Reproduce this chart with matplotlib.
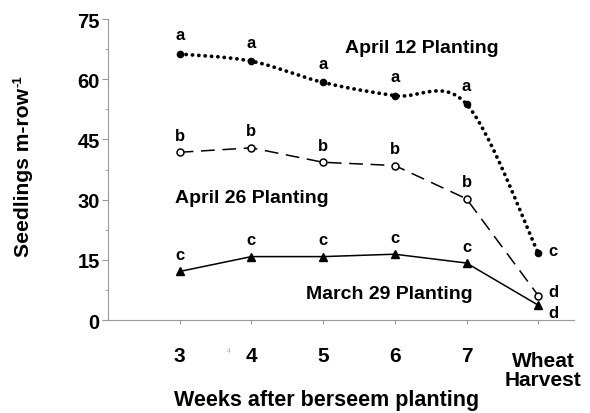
import numpy as np
import matplotlib
matplotlib.use("Agg")
import matplotlib.pyplot as plt
from matplotlib.ticker import MultipleLocator

plt.rcParams['font.family'] = ['Liberation Sans', 'DejaVu Sans']

# data
categories = ["3", "4", "5", "6", "7", "Wheat\nHarvest"]
april12 = [66.3, 64.5, 59.2, 55.9, 53.8, 16.7]
april26 = [41.8, 42.9, 39.3, 38.5, 30.2, 6.1]
march29 = [12.1, 15.8, 15.8, 16.4, 14.2, 3.7]
letters12 = ["a", "a", "a", "a", "a", "c"]
letters26 = ["b", "b", "b", "b", "b", "d"]
letters29 = ["c", "c", "c", "c", "c", "d"]


def smooth(xs, ys, n=30):
    # Bezier smoothing through the points (like a spreadsheet "smoothed line")
    p = np.column_stack([xs, ys]).astype(float)
    pts = np.vstack([p[0], p, p[-1]])
    out = []
    for i in range(1, len(pts) - 2):
        p0, p1, p2, p3 = pts[i - 1], pts[i], pts[i + 1], pts[i + 2]
        c1 = p1 + (p2 - p0) / 6
        c2 = p2 - (p3 - p1) / 6
        t = np.linspace(0, 1, n)[:, None]
        seg = ((1 - t) ** 3) * p1 + 3 * ((1 - t) ** 2) * t * c1 + 3 * (1 - t) * t ** 2 * c2 + t ** 3 * p2
        out.append(seg if i == 1 else seg[1:])
    s = np.vstack(out)
    return s[:, 0], s[:, 1]


x = np.arange(len(categories))

fig = plt.figure(figsize=(5.9, 4.14), dpi=100)
ax = fig.add_axes([0.183, 0.2246, 0.79, 0.727])

sx, sy = smooth(x, april12)
ax.plot(sx, sy, color='black', lw=2.7, linestyle=(0, (0.05, 1.65)),
        dash_capstyle='round')
ax.plot(x, april12, 'o', color='black', ms=4.5)

ax.plot(x, april26, color='black', lw=1.1, linestyle=(0, (9, 5)))
ax.plot(x, april26, 'o', mfc='white', mec='black', mew=1.1, ms=5)

ax.plot(x, march29, color='black', lw=1.1, marker='^', ms=6)

lab = dict(fontsize=12, fontweight='bold', ha='center', va='baseline')
for xi, yi, l in zip(x[:-1], april12[:-1], letters12[:-1]):
    ax.annotate(l, (xi, yi), xytext=(0, 10.5), textcoords='offset points', **lab)
for xi, yi, l in zip(x[:-1], april26[:-1], letters26[:-1]):
    ax.annotate(l, (xi, yi), xytext=(0, 9), textcoords='offset points', **lab)
for xi, yi, l in zip(x[:-1], march29[:-1], letters29[:-1]):
    ax.annotate(l, (xi, yi), xytext=(0, 9), textcoords='offset points', **lab)

side = dict(fontsize=12, fontweight='bold', ha='left', va='center')
ax.annotate(letters12[-1], (x[-1], april12[-1]), xytext=(7, 2), textcoords='offset points', **side)
ax.annotate(letters26[-1], (x[-1], april26[-1]), xytext=(7, 3), textcoords='offset points', **side)
ax.annotate(letters29[-1], (x[-1], march29[-1]), xytext=(7, -5), textcoords='offset points', **side)

ax.text(3.38, 67.8, "April 12 Planting", fontsize=14, fontweight='bold', ha='center', va='center')
ax.text(1.01, 30.6, "April 26 Planting", fontsize=14, fontweight='bold', ha='center', va='center')
ax.text(2.93, 6.5, "March 29 Planting", fontsize=14, fontweight='bold', ha='center', va='center')

ax.set_xlim(-1, 5.5)
ax.set_ylim(0, 75)
ax.yaxis.set_major_locator(MultipleLocator(15))
ax.yaxis.set_minor_locator(MultipleLocator(7.5))
ax.set_xticks(x)
ax.set_xticklabels(categories[:-1] + [""], fontsize=15, fontweight='bold')
for t in ax.get_yticklabels():
    t.set_fontsize(14.5)
    t.set_fontweight('bold')
ax.tick_params(axis='x', length=3, color='#999999', pad=16)
ax.tick_params(axis='y', which='major', length=4, color='#999999', pad=2)
ax.tick_params(axis='y', which='minor', length=2.5, color='#999999')

for s in ['top', 'right']:
    ax.spines[s].set_visible(False)
for s in ['left', 'bottom']:
    ax.spines[s].set_color('#999999')

fig.text(543 / 590, 1 - 352 / 414, categories[-1], fontsize=15, fontweight='bold',
         ha='center', va='top', linespacing=1.0)
fig.text(229 / 590, 1 - 352 / 414, "4", fontsize=5, color='#aaaaaa', ha='center', va='center')

# y label with a small superscript "-1" drawn as its own text
ylab = fig.text(33 / 590, 1 - 257 / 414, "Seedlings m-row", fontsize=15.2, fontweight='bold',
                rotation=90, ha='right', va='bottom')
fig.canvas.draw()
bb = ylab.get_window_extent()
fig.text(13 / 590, (bb.y1 + 1) / 414, "-1", fontsize=9.5, fontweight='bold',
         rotation=90, ha='left', va='bottom')

fig.text(327 / 590, 0.019, "Weeks after berseem planting", fontsize=15.5, fontweight='bold',
         ha='center', va='baseline')

fig.savefig("out.png", dpi=100)
